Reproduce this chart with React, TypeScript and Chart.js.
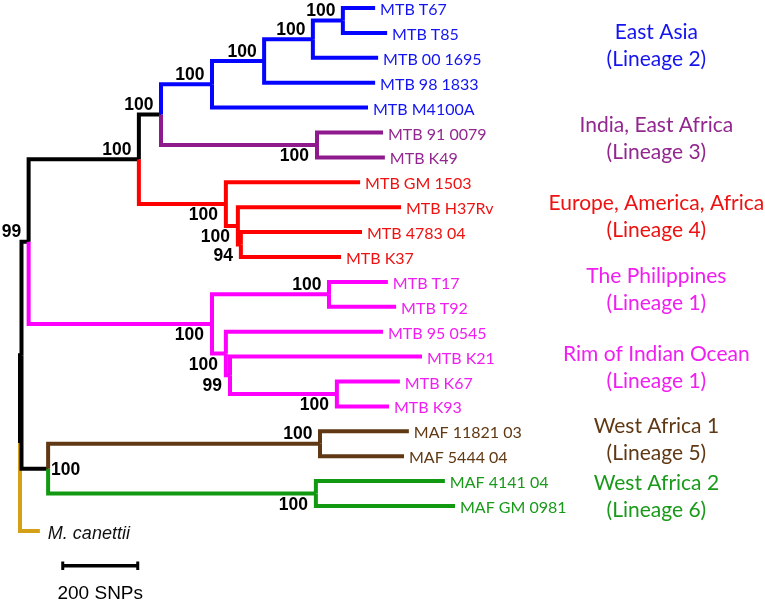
import React, { useEffect, useRef } from "react";
import { Chart, registerables } from "chart.js";

Chart.register(...registerables);

// ---------------- DATA ----------------
// Leaves (top to bottom), distance from root in SNPs, lineage group
const leafNames = [
  "MTB T67", "MTB T85", "MTB 00 1695", "MTB 98 1833", "MTB M4100A",
  "MTB 91 0079", "MTB K49",
  "MTB GM 1503", "MTB H37Rv", "MTB 4783 04", "MTB K37",
  "MTB T17", "MTB T92", "MTB 95 0545", "MTB K21", "MTB K67", "MTB K93",
  "MAF 11821 03", "MAF 5444 04",
  "MAF 4141 04", "MAF GM 0981",
  "M. canettii",
];
const leafSNPs = [
  947, 979, 955, 947, 928,
  968, 973,
  907, 1016, 912, 856,
  981, 1003, 968, 1072, 1013, 984,
  1037, 1024,
  1133, 1160,
  53,
];
const leafGroups = [
  "L2", "L2", "L2", "L2", "L2",
  "L3", "L3",
  "L4", "L4", "L4", "L4",
  "L1", "L1", "L1", "L1", "L1", "L1",
  "L5", "L5",
  "L6", "L6",
  "MC",
];

// Internal nodes (children listed before parents); numbers refer to leaves
const nodeIds = ["A", "B", "C", "D", "N3", "E", "I", "H", "G", "F", "Q", "T", "S", "R", "P", "N2", "N5", "N6", "W", "MTBC", "ROOT"];
const nodeSNPs = [861, 781, 651, 512, 792, 376, 589, 581, 549, 317, 824, 845, 560, 549, 512, 23, 800, 789, 75, 4, 0];
const nodeChildren: (string | number)[][] = [
  [0, 1], ["A", 2], ["B", 3], ["C", 4], [5, 6], ["D", "N3"],
  [9, 10], [8, "I"], [7, "H"], ["E", "G"],
  [11, 12], [15, 16], [14, "T"], [13, "S"], ["Q", "R"], ["F", "P"],
  [17, 18], [19, 20], ["N5", "N6"], ["N2", "W"], ["MTBC", 21],
];
const nodeGroups = ["L2", "L2", "L2", "L2", "L3", "K", "L4", "L4", "L4", "K", "L1", "L1", "L1", "L1", "L1", "K", "L5", "L6", "K", "K", "K"];
const bootstrapValues = [100, 100, 100, 100, 100, 100, 94, 100, 100, 100, 100, 100, 99, 100, 100, 99, 100, 100, 100, null, null];
const bootstrapSides = ["above", "above", "above", "above", "below", "above", "below", "below", "below", "above", "above", "below", "below", "below", "below", "above", "above", "below", "right", null, null];

// Clade annotations
const cladeTitles = ["East Asia", "India, East Africa", "Europe, America, Africa", "The Philippines", "Rim of Indian Ocean", "West Africa 1", "West Africa 2"];
const cladeLineages = ["(Lineage 2)", "(Lineage 3)", "(Lineage 4)", "(Lineage 1)", "(Lineage 1)", "(Lineage 5)", "(Lineage 6)"];
const cladeGroups = ["L2", "L3", "L4", "L1", "L1", "L5", "L6"];

// Scale bar
const scaleBarSNPs = 200;
const scaleBarLabel = "200 SNPs";

// ---------------- LAYOUT / STYLE ----------------
const cladeRows = [1.5, 5.22, 8.37, 11.29, 14.42, 17.31, 19.6];
const cladeLabelSNP = 1697;
const scaleBarStart = 114;
const scaleBarRow = 22.4;

const groupColors: Record<string, string> = {
  L2: "#0505ff",
  L3: "#8e1a8e",
  L4: "#ff0000",
  L1: "#ff00ff",
  L5: "#603813",
  L6: "#119911",
  MC: "#d4a017",
  K: "#000000",
};
const textColors: Record<string, string> = {
  L2: "#1414f0",
  L3: "#92278f",
  L4: "#ee1111",
  L1: "#f01ef0",
  L5: "#603813",
  L6: "#1a9a1a",
  MC: "#111111",
};

type Pt = { x: number; y: number };

function buildTree() {
  const pos: Record<string, Pt> = {};
  const group: Record<string, string> = {};
  leafNames.forEach((_, i) => {
    pos["leaf" + i] = { x: leafSNPs[i], y: i };
    group["leaf" + i] = leafGroups[i];
  });
  const key = (c: string | number) => (typeof c === "number" ? "leaf" + c : c);
  nodeIds.forEach((id, k) => {
    const ys = nodeChildren[k].map((c) => pos[key(c)].y);
    pos[id] = { x: nodeSNPs[k], y: ys.reduce((a, b) => a + b, 0) / ys.length };
    group[id] = nodeGroups[k];
  });
  const branches: { pts: Pt[]; color: string }[] = [];
  nodeIds.forEach((id, k) => {
    const p = pos[id];
    nodeChildren[k].forEach((c) => {
      const ch = pos[key(c)];
      branches.push({
        pts: [
          { x: p.x, y: p.y },
          { x: p.x, y: ch.y },
          { x: ch.x, y: ch.y },
        ],
        color: groupColors[group[key(c)]],
      });
    });
  });
  return { pos, branches };
}

const X_MIN = -53.33;
const X_MAX = 1986.67;
const Y_MIN = -0.3213;
const Y_MAX = 23.815;

export default function App() {
  const ref = useRef<HTMLCanvasElement | null>(null);

  useEffect(() => {
    if (!ref.current) return;
    const { pos, branches } = buildTree();

    const datasets: any[] = branches.map((b) => ({
      data: b.pts,
      showLine: true,
      borderColor: b.color,
      backgroundColor: b.color,
      borderWidth: 4,
      borderJoinStyle: "miter",
      borderCapStyle: "butt",
      pointRadius: 0,
      pointHoverRadius: 0,
      tension: 0,
      fill: false,
      clip: false,
    }));
    // scale bar
    const sbEnd = scaleBarStart + scaleBarSNPs;
    datasets.push({
      data: [{ x: scaleBarStart, y: scaleBarRow }, { x: sbEnd, y: scaleBarRow }],
      showLine: true, borderColor: "#000", borderWidth: 3.5, pointRadius: 0, clip: false, borderCapStyle: "butt",
    });
    [scaleBarStart, sbEnd].forEach((xv) => {
      datasets.push({
        data: [{ x: xv, y: scaleBarRow - 0.17 }, { x: xv, y: scaleBarRow + 0.17 }],
        showLine: true, borderColor: "#000", borderWidth: 3, pointRadius: 0, clip: false, borderCapStyle: "butt",
      });
    });

    const textPlugin = {
      id: "treeText",
      afterDatasetsDraw(chart: any) {
        const ctx = chart.ctx as CanvasRenderingContext2D;
        const xs = chart.scales.x;
        const ys = chart.scales.y;
        const px = (v: number) => xs.getPixelForValue(v);
        const py = (v: number) => ys.getPixelForValue(v);
        ctx.save();
        ctx.textBaseline = "alphabetic";

        // leaf labels
        leafNames.forEach((name, i) => {
          const p = pos["leaf" + i];
          ctx.fillStyle = textColors[leafGroups[i]];
          if (leafGroups[i] === "MC") {
            ctx.font = "italic 18px 'Liberation Sans', Arial, sans-serif";
            ctx.textAlign = "left";
            ctx.fillText(name, px(p.x) + 8, py(p.y) + 8.5);
          } else {
            ctx.font = "16px Lato, sans-serif";
            ctx.textAlign = "left";
            ctx.fillText(name, px(p.x) + 5, py(p.y) + 7);
          }
        });

        // bootstrap values
        ctx.font = "bold 17.5px 'Liberation Sans', Arial, sans-serif";
        ctx.fillStyle = "#000";
        nodeIds.forEach((id, k) => {
          const v = bootstrapValues[k];
          const side = bootstrapSides[k];
          if (v == null || side == null) return;
          const p = pos[id];
          const x = px(p.x);
          const y = py(p.y);
          if (side === "right") {
            ctx.textAlign = "left";
            ctx.fillText(String(v), x + 3, y + 6.2);
          } else if (side === "above") {
            ctx.textAlign = "right";
            ctx.fillText(String(v), x - 7.5, y - 10.5 + 6.2);
          } else {
            ctx.textAlign = "right";
            ctx.fillText(String(v), x - 8, y + 10 + 6.2);
          }
        });

        // clade labels
        ctx.font = "21px Lato, sans-serif";
        ctx.textAlign = "center";
        cladeTitles.forEach((t, i) => {
          ctx.fillStyle = textColors[cladeGroups[i]];
          const cx = px(cladeLabelSNP);
          const cy = py(cladeRows[i]);
          ctx.fillText(t, cx, cy - 13.5 + 7.5);
          ctx.fillText(cladeLineages[i], cx, cy + 13.5 + 7.5);
        });

        // scale bar label
        ctx.font = "19px 'Liberation Sans', Arial, sans-serif";
        ctx.fillStyle = "#000";
        ctx.textAlign = "center";
        ctx.fillText(scaleBarLabel, px(scaleBarStart + scaleBarSNPs / 2), py(scaleBarRow) + 26 + 6.8);
        ctx.restore();
      },
    };

    const chart = new Chart(ref.current, {
      type: "scatter",
      data: { datasets },
      options: {
        animation: false,
        responsive: false,
        devicePixelRatio: 1,
        events: [],
        layout: { padding: 0 },
        plugins: { legend: { display: false }, tooltip: { enabled: false }, title: { display: false } },
        scales: {
          x: { type: "linear", display: false, min: X_MIN, max: X_MAX },
          y: { type: "linear", display: false, min: Y_MIN, max: Y_MAX, reverse: true },
        },
      },
      plugins: [textPlugin],
    });
    return () => chart.destroy();
  }, []);

  return (
    <div style={{ position: "fixed", left: 0, top: 0, width: 765, height: 601, background: "#fff" }}>
      <canvas ref={ref} width={765} height={601} style={{ width: 765, height: 601, display: "block" }} />
    </div>
  );
}
